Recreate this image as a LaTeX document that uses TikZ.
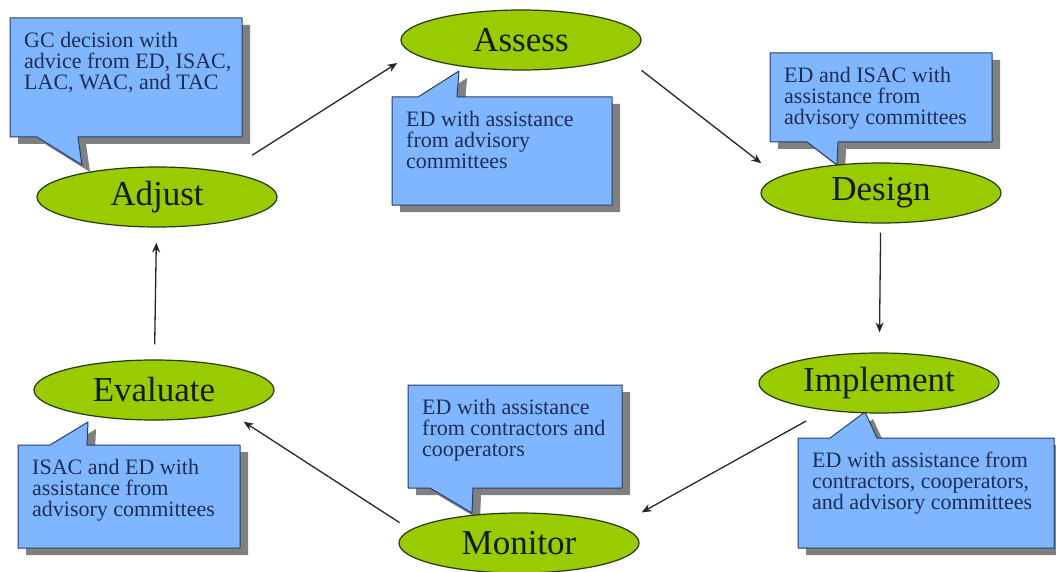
\documentclass[tikz,border=0pt]{standalone}
\usepackage{fontspec}
\setmainfont{Liberation Serif}
\usetikzlibrary{arrows.meta,shadows,backgrounds,shapes.geometric}

\definecolor{stagegreen}{RGB}{153,204,0}
\definecolor{stageline}{RGB}{40,56,16}
\definecolor{notefill}{RGB}{128,182,255}
\definecolor{noteline}{RGB}{40,62,105}
\definecolor{notetext}{RGB}{30,45,85}

\begin{document}
\begin{tikzpicture}[x=1pt,y=-1pt,
    stage/.style={ellipse,draw=stageline,line width=1.2pt,fill=stagegreen,
      minimum width=240pt,minimum height=60pt,inner sep=0pt,text=black!90,
      font=\fontsize{35}{35}\selectfont},
    note/.style={anchor=north west,align=left,inner xsep=14pt,inner ysep=14pt,
      text=notetext,font=\fontsize{22}{21}\selectfont},
    bubble/.style={draw=noteline,line width=1pt,fill=notefill,line join=round,
      drop shadow={shadow xshift=8pt,shadow yshift=-7pt,fill=black!50,opacity=1}},
    flow/.style={draw=black!85,line width=1.3pt,-{Stealth[length=10pt,width=8pt]}}]
      \useasboundingbox (0,0) rectangle (1056,572);

      % stages of the cycle
      \node[stage] (assess) at (521,40) {Assess};
      \node[stage] (design) at (881,193) {Design};
      \node[stage] (implement) at (879,383) {Implement};
      \node[stage] (monitor) at (519,543) {Monitor};
      \node[stage] (evaluate) at (154,390) {Evaluate};
      \node[stage] (adjust) at (157,197) {Adjust};

      % who does what
      \node[note] (adjustNote) at (10,18) {GC decision with\\advice from ED, ISAC,\\LAC, WAC, and TAC};
      \node[note] (assessNote) at (392,97) {ED with assistance\\from advisory\\committees};
      \node[note] (designNote) at (770,53) {ED and ISAC with\\assistance from\\advisory committees};
      \node[note] (implementNote) at (798,438) {ED with assistance from\\contractors, cooperators,\\and advisory committees};
      \node[note] (monitorNote) at (408,385) {ED with assistance\\from contractors and\\cooperators};
      \node[note] (evaluateNote) at (18,445) {ISAC and ED with\\assistance from\\advisory committees};

      \begin{pgfonlayer}{background}
      \draw[bubble] (10,18) -- (242,18) -- (242,137) -- (78,137) -- (82,165) -- (37,137) -- (10,137) -- cycle;
      \draw[bubble] (392,97) -- (418,97) -- (459,71) -- (457,97) -- (612,97) -- (612,205) -- (392,205) -- cycle;
      \draw[bubble] (770,53) -- (992,53) -- (992,142) -- (838,142) -- (837,165) -- (807,142) -- (770,142) -- cycle;
      \draw[bubble] (798,438) -- (830,438) -- (865,412) -- (877,438) -- (1054,438) -- (1054,548) -- (798,548) -- cycle;
      \draw[bubble] (408,385) -- (622,385) -- (622,488) -- (473,488) -- (472,513) -- (430,488) -- (408,488) -- cycle;
      \draw[bubble] (18,445) -- (50,445) -- (88,422) -- (87,445) -- (240,445) -- (240,548) -- (18,548) -- cycle;
      \end{pgfonlayer}

      % arrows round the cycle
      \draw[flow,shorten <=31pt,shorten >=18pt] (adjust.20) -- (assess.187);
      \draw[flow,shorten <=23pt,shorten >=22pt] (assess.351) -- (design.171);
      \draw[flow,shorten <=9pt,shorten >=20pt] (design) -- (implement);
      \draw[flow,shorten <=22pt,shorten >=27pt] (implement.207) -- (monitor.10);
      \draw[flow,shorten <=13pt,shorten >=15pt] (monitor.173) -- (evaluate.343);
      \draw[flow,shorten <=15pt,shorten >=15pt] (evaluate) -- (adjust);
    \end{tikzpicture}
\end{document}
